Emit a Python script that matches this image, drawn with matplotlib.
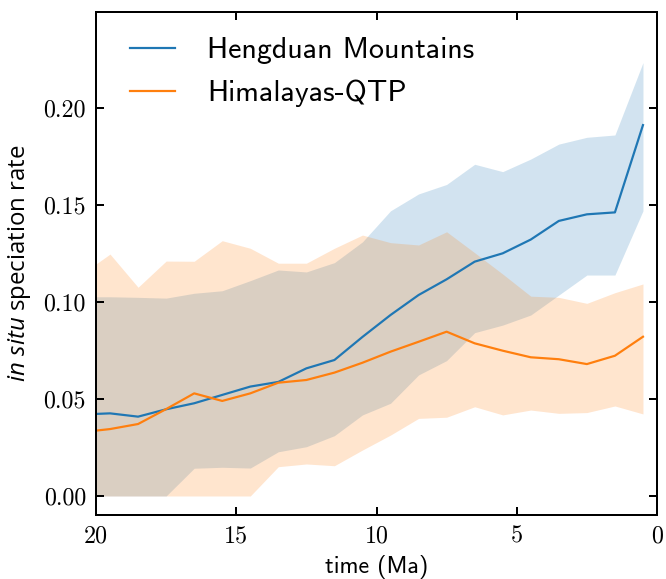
import numpy as np
import matplotlib
matplotlib.use("Agg")
import matplotlib.pyplot as plt

plt.rcParams['mathtext.fontset'] = 'custom'
plt.rcParams['mathtext.rm'] = 'Open Sans'
plt.rcParams['mathtext.it'] = 'Open Sans:italic'

t = [20, 19.5, 18.5, 17.5, 16.5, 15.5, 14.5, 13.5, 12.5, 11.5, 10.5,
     9.5, 8.5, 7.5, 6.5, 5.5, 4.5, 3.5, 2.5, 1.5, 0.5]

# Hengduan Mountains
hd_mean = [0.0423, 0.0426, 0.0409, 0.0447, 0.0478, 0.0521, 0.0564, 0.0588, 0.0658, 0.0701, 0.0820,
           0.0933, 0.1036, 0.1117, 0.1208, 0.1251, 0.1322, 0.1418, 0.1452, 0.1462, 0.1912]
hd_low = [0.0, 0.0, 0.0, 0.0, 0.0143, 0.0148, 0.0144, 0.0228, 0.0254, 0.0311, 0.0418,
          0.0478, 0.0624, 0.0698, 0.0842, 0.0881, 0.0933, 0.1036, 0.1139, 0.1139, 0.1470]
hd_high = [0.1027, 0.1027, 0.1024, 0.1020, 0.1045, 0.1058, 0.1110, 0.1165, 0.1155, 0.1203, 0.1310,
           0.1470, 0.1557, 0.1606, 0.1710, 0.1672, 0.1737, 0.1814, 0.1849, 0.1861, 0.2234]

# Himalayas-QTP
hq_mean = [0.0337, 0.0345, 0.0371, 0.0448, 0.0529, 0.0490, 0.0529, 0.0584, 0.0598, 0.0636, 0.0687,
           0.0744, 0.0795, 0.0847, 0.0787, 0.0749, 0.0715, 0.0705, 0.0680, 0.0723, 0.0821]
hq_low = [0.0, 0.0, 0.0, 0.0, 0.0, 0.0, 0.0, 0.0151, 0.0165, 0.0156, 0.0237,
          0.0314, 0.0400, 0.0406, 0.0460, 0.0418, 0.0443, 0.0426, 0.0430, 0.0464, 0.0423]
hq_high = [0.1196, 0.1247, 0.1076, 0.1211, 0.1210, 0.1316, 0.1277, 0.1200, 0.1200, 0.1277, 0.1345,
           0.1306, 0.1294, 0.1362, 0.1254, 0.1144, 0.1030, 0.1024, 0.0993, 0.1048, 0.1093]

fig = plt.figure(figsize=(666 / 144, 579 / 144), dpi=144)
ax = fig.add_axes([96 / 666, 1 - 515 / 579, (657 - 96) / 666, (515 - 12) / 579])

ax.fill_between(t, hd_low, hd_high, color='C0', alpha=0.2, lw=0)
ax.fill_between(t, hq_low, hq_high, color='C1', alpha=0.2, lw=0)
ax.plot(t, hd_mean, color='C0', lw=1.1, label='Hengduan Mountains')
ax.plot(t, hq_mean, color='C1', lw=1.1, label='Himalayas-QTP')

ax.set_xlim(20, 0)
ax.set_ylim(-0.0098, 0.2495)
ax.set_xticks([20, 15, 10, 5, 0])
ax.set_yticks([0.0, 0.05, 0.10, 0.15, 0.20])
ax.set_yticklabels(['0.00', '0.05', '0.10', '0.15', '0.20'])

for s in ax.spines.values():
    s.set_linewidth(1.0)
ax.tick_params(direction='in', top=True, right=True, length=4, width=1.0, pad=5)
for lab in ax.get_xticklabels() + ax.get_yticklabels():
    lab.set_fontfamily('cmr10')
    lab.set_fontsize(12)

ax.set_xlabel('time (Ma)', family='cmss10', fontsize=12, labelpad=4)
ax.set_ylabel(r'$\mathit{in\ situ}$ speciation rate', family='Open Sans', fontsize=12, labelpad=5)

ax.legend(loc='upper left', bbox_to_anchor=(0.016, 1), frameon=False,
          prop={'family': 'cmss10', 'size': 15},
          handlelength=1.5, handletextpad=1.05, labelspacing=0.5,
          borderpad=0.25, borderaxespad=0.6)

fig.savefig('out.png', dpi=144)
